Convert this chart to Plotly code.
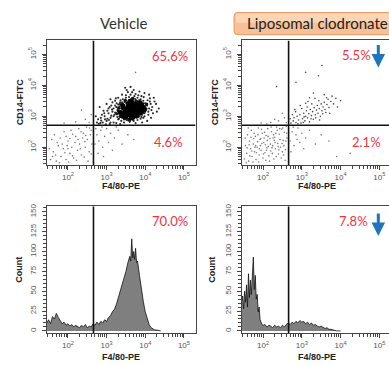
import numpy as np
import plotly.graph_objects as go

W, H = 389, 365

# ---------------- data (log10 units for fluorescence) ----------------
veh_core_x = [3.45,3.52,3.58,3.60,3.66,3.70,3.75,3.80,3.72,3.55,3.63,3.85,3.48,3.68,3.78,3.58,3.62,3.70,3.90,3.40,
              3.50,3.82,3.74,3.66,3.56,3.44,3.36,3.93,3.86,3.64,3.52,3.76,3.88,3.60,3.70,3.42,3.96,3.80,3.66,3.54]
veh_core_y = [3.10,3.18,3.05,3.25,3.15,3.30,3.20,3.35,3.08,3.30,3.38,3.25,3.22,3.00,3.12,3.15,3.28,3.20,3.38,3.02,
              2.98,3.42,3.40,3.45,3.40,3.26,3.12,3.28,3.10,2.95,3.08,3.02,3.18,3.48,3.36,3.34,3.20,3.22,3.06,3.12]

veh_mid_x = [3.35,3.40,3.46,3.52,3.58,3.64,3.70,3.76,3.82,3.88,3.94,3.98,3.30,3.38,3.44,3.50,3.86,3.92,3.78,3.60,
             3.26,3.32,4.02,4.04,3.68,3.48]
veh_mid_y = [3.00,3.30,2.92,3.44,2.90,3.52,2.94,3.50,3.00,3.46,3.12,3.32,3.18,3.38,3.05,2.95,3.40,3.22,3.02,2.88,
             3.08,3.26,3.24,3.40,3.58,3.52]

veh_halo_x = [3.20,3.25,3.30,3.15,3.35,3.28,3.10,3.05,3.00,2.95,2.90,2.85,3.12,3.18,3.38,3.42,3.50,3.58,3.65,3.72,
              3.80,3.88,3.95,4.00,4.05,4.02,3.98,4.08,3.95,3.88,3.80,3.70,3.60,3.52,3.45,3.35,3.25,3.08,2.98,2.80,
              4.12,4.18,4.22,4.10,3.98,3.85,3.70,3.55,3.40,3.30,3.22,3.15,3.05,2.92,2.88,2.78,2.82,3.00,3.10,3.48,
              3.62,4.28,4.30,4.15,4.05,3.92,3.75,3.40,3.32,3.38,3.30,3.42,3.48,3.58,3.68,3.78,3.88,3.95,4.00,3.98,
              3.90,3.78,3.68,3.55,3.48,3.28,3.22,3.18,3.26,4.08,4.12,3.90,3.75,3.62,3.50,2.75,2.72,3.02,3.12,4.35,
              3.30,3.33,3.36,3.40,3.45,3.50,3.56,3.62,3.68,3.74,3.82,3.86,3.92,3.96,4.00,4.02,3.28,3.34,3.38,3.44,
              3.26,3.94,3.90,3.84,3.60,3.46,3.32,3.18,3.14,3.22,3.06,2.96,2.86,2.94,3.02,3.08,4.10,4.14,4.06,3.96,
              3.82,3.66,3.52,3.36,3.24,4.20,4.16,4.24,3.10,2.84]
veh_halo_y = [3.05,3.30,2.90,3.15,3.45,3.20,2.95,3.10,2.85,3.00,2.80,2.95,3.35,2.80,2.85,3.55,3.60,3.62,3.58,3.65,
              3.60,3.55,3.50,3.42,3.35,3.20,3.10,3.05,2.95,2.92,2.88,2.85,2.82,2.88,2.80,2.75,2.78,2.75,2.74,2.76,
              3.48,3.30,3.60,3.70,3.75,3.80,3.85,3.78,3.70,3.60,3.50,3.45,3.25,3.18,3.05,2.90,3.30,3.40,3.55,3.92,
              3.95,3.40,3.15,2.95,2.85,2.80,2.78,2.95,3.08,3.25,3.38,3.40,3.48,3.52,3.55,3.50,3.45,3.38,3.28,3.00,
              2.98,2.95,2.92,2.92,2.95,2.98,3.12,3.25,3.42,3.15,3.58,3.65,3.72,3.70,3.68,2.80,3.00,2.92,3.02,3.25,
              3.18,3.32,2.98,3.45,2.90,3.52,2.86,3.55,2.88,3.56,2.98,3.50,3.05,3.42,3.15,3.36,3.28,3.40,3.05,2.96,
              3.10,3.18,3.48,3.52,3.48,3.46,2.92,3.00,3.22,3.35,2.88,2.90,2.86,3.10,3.18,3.30,3.25,3.40,3.52,3.62,
              3.68,3.78,3.85,3.52,3.58,3.10,3.20,3.48,2.80,2.78]

veh_sparse_x = [1.55,1.62,1.70,1.75,1.82,1.88,1.95,2.00,2.05,2.10,2.15,2.20,2.25,2.30,2.35,2.40,2.45,2.50,2.55,2.60,
                1.58,1.65,1.72,1.80,1.90,1.98,2.08,2.18,2.28,2.38,2.48,2.58,1.52,1.68,1.78,1.92,2.02,2.12,2.22,2.32,
                2.42,2.52,2.62,1.85,2.12,2.26,2.44,2.56,2.00,1.60,1.95,2.34,2.46,2.60,2.05,
                2.70,2.75,2.80,2.85,2.90,2.95,3.00,3.05,3.10,3.20,3.30,3.40,3.55,3.70,2.78,2.92,3.15,2.72,2.88,3.25,
                2.20,2.45,2.60,1.90,2.55,2.35,3.75]
veh_sparse_y = [1.60,1.85,1.55,2.05,1.70,1.95,1.60,2.20,1.80,2.00,1.65,2.35,1.90,2.10,1.75,2.45,2.00,2.25,1.85,2.55,
                2.25,2.40,2.15,2.30,2.50,2.05,2.55,2.15,2.60,2.30,2.65,2.40,1.95,1.75,1.50,1.82,1.52,1.72,1.58,1.95,
                1.68,1.55,2.10,2.10,2.42,2.25,2.18,2.62,1.95,1.70,2.35,2.50,2.38,1.78,2.28,
                2.10,2.40,2.20,2.55,2.00,2.35,2.60,2.15,2.45,2.30,2.55,2.10,2.40,2.25,1.80,1.70,1.90,2.60,2.65,2.65,
                2.82,2.90,3.05,2.78,2.80,3.20,4.42]

clo_ur_x = [2.72,2.78,2.80,2.85,2.88,2.92,2.95,2.98,3.02,3.05,3.08,3.10,3.12,3.15,3.18,3.20,3.22,3.25,3.28,3.30,
            3.32,3.35,3.38,3.40,3.42,3.45,3.48,3.50,3.52,3.55,3.58,3.60,3.62,3.65,3.68,3.70,3.75,3.78,3.82,3.88,
            2.76,2.84,2.90,3.00,3.06,3.14,3.24,3.26,3.36,3.44,3.54,3.64,2.70,2.96,3.16,3.34,3.46,3.72,3.92,4.00,
            2.82,3.04,3.20,3.58,3.30,3.10,
            3.52,3.10,2.35,2.85,3.43]
clo_ur_y = [2.78,2.85,2.95,2.80,3.00,2.88,3.05,2.78,2.92,3.10,2.85,3.00,3.18,2.95,3.08,2.82,3.22,3.02,3.15,2.90,
            3.28,3.05,3.20,3.35,3.10,3.25,3.00,3.40,3.18,3.30,3.45,3.22,3.12,3.38,3.55,3.28,3.48,3.65,3.40,3.58,
            3.05,3.15,2.76,3.25,2.98,3.30,2.92,3.40,2.95,3.50,3.08,3.60,2.92,3.35,3.48,3.58,2.88,3.10,3.30,3.50,
            3.22,2.80,3.60,3.70,3.75,3.42,
            4.64,4.42,3.96,4.10,4.31]

clo_ll_x = [1.52,1.55,1.58,1.60,1.63,1.65,1.68,1.70,1.72,1.75,1.78,1.80,1.82,1.85,1.88,1.90,1.92,1.95,1.98,2.00,
            2.02,2.05,2.08,2.10,2.12,2.15,2.18,2.20,2.22,2.25,2.28,2.30,2.32,2.35,2.38,2.40,2.42,2.45,2.48,2.50,
            2.52,2.55,2.58,2.60,2.62,1.54,1.57,1.62,1.66,1.69,1.74,1.77,1.83,1.86,1.89,1.93,1.96,2.01,2.04,2.07,
            2.11,2.14,2.17,2.21,2.24,2.27,2.31,2.34,2.37,2.41,2.44,2.47,2.51,2.54,2.57,2.61,1.59,1.64,1.71,1.76,
            1.81,1.87,1.91,1.97,2.03,2.09,2.13,2.19,2.23,2.29,2.33,2.39,2.43,2.49,2.53,2.59,1.79,1.94,2.06,2.26,
            2.70,2.75,2.80,2.85,2.90,2.95,3.00,3.10,3.20,3.35,3.50,3.70,3.90,2.72,2.78,3.05,4.25,2.88,
            2.20,2.40,2.55,1.95,2.60,2.50,2.30,2.10]
clo_ll_y = [1.62,2.05,1.80,2.40,1.55,2.20,1.95,2.55,1.70,2.10,1.85,2.35,1.60,2.00,2.62,1.75,2.25,1.90,2.45,1.65,
            2.15,1.82,2.38,1.98,2.60,1.72,2.28,1.88,2.50,2.05,1.62,2.32,1.95,2.65,2.12,1.78,2.42,2.00,2.58,1.85,
            2.22,2.48,1.92,2.68,2.30,2.30,1.50,2.62,1.72,2.32,1.52,2.45,1.82,2.18,1.52,2.05,2.58,1.78,2.48,1.58,
            2.22,2.02,1.55,2.65,1.80,2.40,2.15,1.70,2.55,1.92,2.25,1.65,2.62,2.05,1.58,2.45,1.98,2.08,1.88,2.28,
            2.05,2.40,1.95,2.12,2.30,1.90,2.35,2.10,1.98,2.22,2.45,2.02,2.60,2.12,1.75,2.20,2.00,2.28,2.08,2.30,
            2.20,2.50,2.05,2.40,2.62,2.15,2.45,2.30,2.55,2.10,2.40,2.20,1.70,1.85,2.65,1.95,1.80,2.25,
            2.80,2.85,2.95,2.78,2.80,3.10,2.90,2.75]

veh_logx = [1.45,1.50,1.55,1.60,1.65,1.70,1.75,1.80,1.85,1.90,1.95,2.00,2.05,2.10,2.15,2.20,2.25,2.30,2.35,2.40,
            2.45,2.50,2.55,2.60,2.65,2.70,2.75,2.80,2.85,2.90,2.95,3.00,3.05,3.10,3.15,3.20,3.25,3.30,3.35,3.40,
            3.45,3.50,3.55,3.60,3.625,3.65,3.675,3.70,3.725,3.75,3.775,3.80,3.85,3.90,3.95,4.00,4.05,4.10,4.15,4.20,
            4.25,4.30,4.35,4.40]
veh_counts = [10,14,9,18,15,22,17,13,9,11,7,9,6,8,5,7,6,4,7,5,
              8,4,6,5,9,7,11,8,12,10,14,12,17,19,24,27,33,41,48,57,
              66,75,86,94,88,116,92,100,90,104,86,88,70,52,37,24,14,8,4,2,
              1,1,0,0]
clo_logx = [1.450,1.475,1.500,1.525,1.550,1.575,1.600,1.625,1.650,1.675,1.700,1.725,1.750,1.775,1.800,1.825,1.850,1.875,
            1.900,1.925,1.950,1.975,2.00,2.05,2.10,2.15,2.20,2.25,2.30,2.35,2.40,2.45,2.50,2.55,2.60,2.65,2.70,2.75,
            2.80,2.85,2.90,2.95,3.00,3.05,3.10,3.15,3.20,3.25,3.30,3.35,3.40,3.45,3.50,3.55,3.60,3.65,3.70,3.75,
            3.80,3.85,3.90,3.95,4.00]
clo_counts = [38,44,28,50,36,58,30,72,42,64,46,78,93,52,70,40,46,24,30,14,10,8,7,8,5,7,6,4,7,5,
              6,4,7,5,8,10,8,11,9,12,10,13,11,12,9,11,8,10,7,8,6,5,6,4,3,4,2,2,
              1,1,0,0,0]

gate_x = 2.66
gate_y = 2.71
pct_top = ["65.6%", "4.6%", "5.5%", "2.1%"]
pct_bot = ["70.0%", "7.8%"]
dec_ticks = [2, 3, 4, 5]
hist_ticks = [0, 25, 50, 75, 100, 125, 150]

# ---------------- helpers ----------------
def px(x):
    return x / W

def py(y):
    return 1 - y / H

def p10(a):
    return 10 ** np.array(a, dtype=float)

XR = [1.45, 5.30]
XR2 = [1.45, 5.25]
YR_TOP = [1.42, 5.45]
YR_BOT = [-3, 157]

fig = go.Figure()

def scatter_pts(xs, ys, color, size, xa, ya, op=1.0):
    fig.add_trace(go.Scatter(x=p10(xs), y=p10(ys), mode="markers", xaxis=xa, yaxis=ya,
                             marker=dict(color=color, size=size, opacity=op, line=dict(width=0)),
                             hoverinfo="skip"))

def gate_lines(xa, ya, yr, logy=True):
    ylo, yhi = (p10(yr) if logy else yr)
    xlo, xhi = p10(XR)
    fig.add_trace(go.Scatter(x=[10**gate_x, 10**gate_x], y=[ylo, yhi], mode="lines", xaxis=xa, yaxis=ya,
                             line=dict(color="#111", width=1.6), hoverinfo="skip"))
    if logy:
        fig.add_trace(go.Scatter(x=[xlo, xhi], y=[10**gate_y, 10**gate_y], mode="lines", xaxis=xa, yaxis=ya,
                                 line=dict(color="#111", width=1.6), hoverinfo="skip"))

# top-left: vehicle dot plot
scatter_pts(veh_sparse_x, veh_sparse_y, "#777", 1.6, "x", "y")
scatter_pts(veh_halo_x, veh_halo_y, "#111", 2.1, "x", "y", 0.9)
scatter_pts(veh_mid_x, veh_mid_y, "#111", 3.0, "x", "y")
scatter_pts(veh_core_x, veh_core_y, "#000", 5.0, "x", "y")
gate_lines("x", "y", YR_TOP)

# top-right: clodronate dot plot
scatter_pts(clo_ll_x, clo_ll_y, "#7a7a7a", 1.6, "x2", "y2")
scatter_pts(clo_ur_x, clo_ur_y, "#444", 1.6, "x2", "y2")
gate_lines("x2", "y2", YR_TOP)

# bottom histograms
for lx, cts, xa, ya in [(veh_logx, veh_counts, "x3", "y3"), (clo_logx, clo_counts, "x4", "y4")]:
    fig.add_trace(go.Scatter(x=p10(lx), y=cts, mode="lines", xaxis=xa, yaxis=ya,
                             line=dict(color="#111", width=0.8), fill="tozeroy",
                             fillcolor="#7f7f7f", hoverinfo="skip"))
    gate_lines(xa, ya, YR_BOT, logy=False)

# ---------------- axes ----------------
tickfont = dict(size=8, color="#555", family="Liberation Sans")
minor_log = [k * 10 ** d for d in range(1, 6) for k in range(2, 10)]
dec_vals = [10 ** d for d in dec_ticks]
dec_text = ["10<sup>%d</sup>" % d for d in dec_ticks]

def xaxis_cfg(dom, rng, anchor):
    return dict(domain=dom, range=rng, type="log", anchor=anchor,
                tickmode="array", tickvals=dec_vals, ticktext=dec_text,
                ticks="outside", ticklen=4, tickcolor="#444", tickwidth=1,
                showline=True, linecolor="#444", linewidth=1, mirror=True,
                showgrid=False, zeroline=False, tickfont=tickfont,
                minor=dict(tickmode="array", tickvals=minor_log, ticks="outside",
                           ticklen=2.5, tickcolor="#444", showgrid=False))

def yaxis_log_cfg(dom, anchor, mirror):
    return dict(domain=dom, range=YR_TOP, type="log", anchor=anchor,
                tickmode="array", tickvals=dec_vals, ticktext=dec_text, tickangle=-90,
                ticks="outside", ticklen=4, tickcolor="#444", ticklabelstandoff=3,
                showline=True, linecolor="#444", linewidth=1, mirror=mirror,
                showgrid=False, zeroline=False, tickfont=tickfont,
                minor=dict(tickmode="array", tickvals=minor_log, ticks="outside",
                           ticklen=2.5, tickcolor="#444", showgrid=False))

def yaxis_lin_cfg(dom, anchor, mirror):
    return dict(domain=dom, range=YR_BOT, anchor=anchor,
                tickmode="array", tickvals=hist_ticks, tickangle=-90,
                ticks="outside", ticklen=4, tickcolor="#444", ticklabelstandoff=3,
                showline=True, linecolor="#444", linewidth=1, mirror=mirror,
                showgrid=False, zeroline=False, tickfont=tickfont,
                minor=dict(dtick=5, tick0=0, ticks="outside", ticklen=2.5, tickcolor="#444", showgrid=False))

XL = [px(46.7), px(195.5)]
XRd = [px(241.7), 1.0]
YT = [py(163.5), py(37.8)]
YB = [py(333), py(205)]

fig.update_layout(
    xaxis=xaxis_cfg(XL, XR, "y"),
    yaxis=yaxis_log_cfg(YT, "x", True),
    xaxis2=xaxis_cfg(XRd, XR2, "y2"),
    yaxis2=yaxis_log_cfg(YT, "x2", False),
    xaxis3=xaxis_cfg(XL, XR, "y3"),
    yaxis3=yaxis_lin_cfg(YB, "x3", True),
    xaxis4=xaxis_cfg(XRd, XR2, "y4"),
    yaxis4=yaxis_lin_cfg(YB, "x4", False),
)

# ---------------- annotations ----------------
ann = []
def txt(x, y, s, size=9, color="#111", bold=False, angle=0, anchor="center", family="Liberation Sans"):
    ann.append(dict(x=px(x), y=py(y), xref="paper", yref="paper", text=("<b>%s</b>" % s if bold else s),
                    showarrow=False, textangle=angle, xanchor=anchor, yanchor="middle",
                    font=dict(size=size, color=color, family=family)))

txt(124, 20, "Vehicle", 15, "#333", family="Lato")
txt(245, 20.5, "Liposomal clodronate", 15, "#222", anchor="left", family="Lato")

for xc in [121, 316.5]:
    txt(xc, 185, "F4/80-PE", 9, "#222", bold=True)
    txt(xc, 356.5, "F4/80-PE", 9, "#222", bold=True)
txt(20, 100, "CD14-FITC", 9, "#222", bold=True, angle=-90)
txt(215, 100, "CD14-FITC", 9, "#222", bold=True, angle=-90)
txt(19, 269, "Count", 9, "#222", bold=True, angle=-90)
txt(212, 269, "Count", 9, "#222", bold=True, angle=-90)

red = "#f5333f"
txt(170, 53, pct_top[0], 13, red, family="Lato")
txt(168.5, 140, pct_top[1], 13, red, family="Lato")
txt(356, 52, pct_top[2], 13, red, family="Lato")
txt(366, 140, pct_top[3], 13, red, family="Lato")
txt(170, 220, pct_bot[0], 13, red, family="Lato")
txt(353, 220, pct_bot[1], 13, red, family="Lato")

for tip_y in [65, 235]:
    ann.append(dict(x=px(378.3), y=py(tip_y), xref="paper", yref="paper", text="",
                    showarrow=True, ax=0, ay=-24, arrowcolor="#1f74c0", arrowwidth=3,
                    arrowhead=2, arrowsize=0.9))

# orange label box (rounded rectangle)
x0, x1, y0, y1, r = 234, 420, 9.5, 32, 4

def rr_path(x0, y0, x1, y1, r):
    pts = [
        f"M {px(x0 + r)},{py(y0)}", f"L {px(x1 - r)},{py(y0)}",
        f"Q {px(x1)},{py(y0)} {px(x1)},{py(y0 + r)}", f"L {px(x1)},{py(y1 - r)}",
        f"Q {px(x1)},{py(y1)} {px(x1 - r)},{py(y1)}", f"L {px(x0 + r)},{py(y1)}",
        f"Q {px(x0)},{py(y1)} {px(x0)},{py(y1 - r)}", f"L {px(x0)},{py(y0 + r)}",
        f"Q {px(x0)},{py(y0)} {px(x0 + r)},{py(y0)}", "Z"]
    return " ".join(pts)

shapes = [
    dict(type="path", xref="paper", yref="paper", path=rr_path(x0, y0, x1, y1, r),
         fillcolor="#f8c096", line=dict(color="#e39a62", width=1), layer="below"),
    dict(type="rect", xref="paper", yref="paper", x0=px(x0 + 2), x1=px(x1), y0=py(10.5), y1=py(20),
         fillcolor="#fcd9bd", line=dict(width=0), layer="below", opacity=0.8),
]

fig.update_layout(
    width=W, height=H, margin=dict(l=0, r=0, t=0, b=0),
    paper_bgcolor="white", plot_bgcolor="white", showlegend=False,
    annotations=ann, shapes=shapes,
)

fig.write_html("out.html", config={"displayModeBar": False},
               post_script="document.body.style.margin='0';")
